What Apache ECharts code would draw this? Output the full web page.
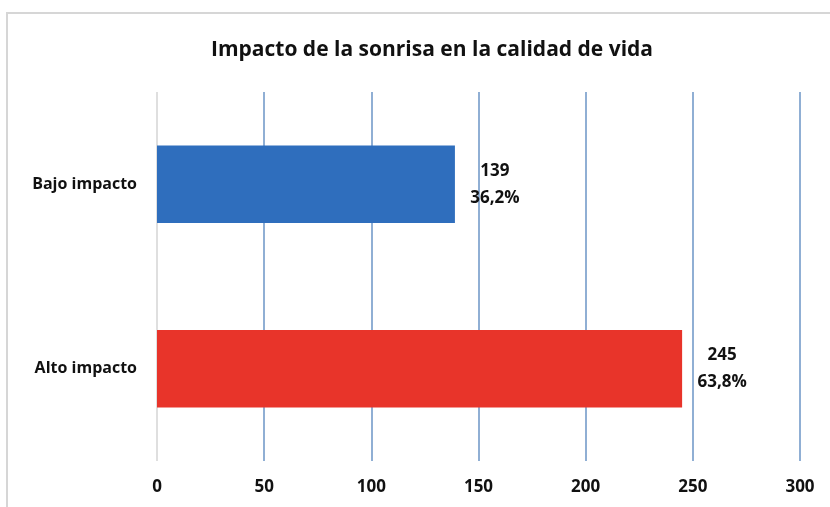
<!DOCTYPE html>
<html>
<head>
<meta charset="utf-8">
<script src="https://cdn.jsdelivr.net/npm/echarts@6/dist/echarts.min.js"></script>
<style>
  html, body { margin: 0; padding: 0; background: #fff; }
  #chart { width: 830px; height: 507px; }
</style>
</head>
<body>
<div id="chart"></div>
<script>
// datos
const categorias = ["Bajo impacto", "Alto impacto"];
const valores = [139, 245];
const porcentajes = ["36,2%", "63,8%"];
const colores = ["#2f6ebd", "#e8342a"];
const ticksX = [0, 50, 100, 150, 200, 250, 300];

const myChart = echarts.init(document.getElementById("chart"));

const option = {
  backgroundColor: "#fff",
  textStyle: { fontFamily: "Open Sans" },
  title: {
    text: "Impacto de la sonrisa en la calidad de vida",
    left: 427,
    top: 35,
    textAlign: "center",
    textStyle: { fontSize: 21, fontWeight: "bold", color: "#111", fontFamily: "Open Sans" }
  },
  graphic: [
    {
      type: "rect",
      shape: { x: 7, y: 13, width: 840, height: 520 },
      style: { fill: "none", stroke: "#d6d6d6", lineWidth: 2 },
      silent: true
    }
  ],
  grid: { left: 157, right: 30, top: 92, bottom: 46 },
  xAxis: {
    type: "value",
    min: ticksX[0],
    max: ticksX[ticksX.length - 1],
    interval: 50,
    axisLine: { show: false },
    axisTick: { show: false },
    axisLabel: { margin: 18, fontSize: 17, fontWeight: "bold", color: "#111" },
    splitLine: {
      show: true,
      lineStyle: {
        width: 1.5,
        color: ["#d4d4d4", "#6b94c6", "#6b94c6", "#6b94c6", "#6b94c6", "#6b94c6", "#6b94c6"]
      }
    }
  },
  yAxis: {
    type: "category",
    inverse: true,
    data: categorias,
    axisLine: { show: false },
    axisTick: { show: false },
    axisLabel: { margin: 20, fontSize: 16, fontWeight: "bold", color: "#111" }
  },
  series: [
    {
      type: "bar",
      barCategoryGap: "58%",
      data: valores.map((v, i) => ({ value: v, itemStyle: { color: colores[i] } })),
      label: {
        show: true,
        position: "right",
        distance: 8,
        formatter: (p) => "{a|" + p.value + "}\n{a|" + porcentajes[p.dataIndex] + "}",
        rich: {
          a: { width: 64, align: "center", fontSize: 17, fontWeight: "bold", color: "#111", lineHeight: 27, fontFamily: "Open Sans" }
        }
      }
    }
  ]
};

myChart.setOption(option);
window.addEventListener("resize", function () {
  myChart.resize();
});
</script>
</body>
</html>
